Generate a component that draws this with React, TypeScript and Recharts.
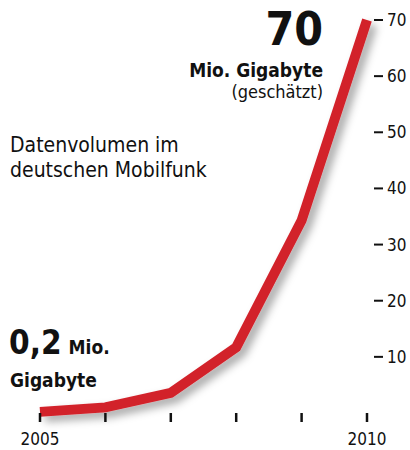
import { LineChart, Line, XAxis, YAxis } from "recharts";

const years = [2005, 2006, 2007, 2008, 2009, 2010];
const volume = [0.2, 1.0, 3.6, 11.7, 34.3, 70];
const yTicks = [10, 20, 30, 40, 50, 60, 70];
const labeledYears = [2005, 2010];

const data = years.map((year, i) => ({ year, volume: volume[i] }));

const FONT = '"Liberation Sans Narrow", "DejaVu Sans Condensed", "Roboto Condensed", "DejaVu Sans", sans-serif';

function YTick({ x, y, payload }: any) {
  return (
    <g>
      <line x1={x - 13} x2={x - 4} y1={y} y2={y} stroke="#111" strokeWidth={2} />
      <text x={x} y={y} dy="0.35em" fontSize={17} fill="#111" fontFamily={FONT}>
        {payload.value}
      </text>
    </g>
  );
}

export default function App() {
  return (
    <div style={{ position: "absolute", left: 0, top: 0, width: 410, height: 450, background: "#fff" }}>
      <LineChart width={410} height={450} data={data} margin={{ top: 20, right: 0, bottom: 0, left: 40 }}>
        <defs>
          <filter id="shadow" x="-20%" y="-20%" width="140%" height="140%">
            <feDropShadow dx={5} dy={5} stdDeviation={4} floodColor="#000" floodOpacity={0.35} />
          </filter>
        </defs>
        <XAxis
          dataKey="year"
          type="number"
          domain={[2005, 2010]}
          ticks={years}
          padding={{ left: 0, right: 6 }}
          axisLine={false}
          tickLine={{ stroke: "#111", strokeWidth: 2.5 }}
          tickSize={9}
          tickMargin={11}
          height={37}
          tick={{ fontSize: 17, fill: "#111", fontFamily: FONT }}
          tickFormatter={(v) => (labeledYears.includes(v) ? String(v) : "")}
        />
        <YAxis
          orientation="right"
          domain={[0, 70]}
          ticks={yTicks}
          width={37}
          axisLine={false}
          tickLine={false}
          tickSize={9}
          tickMargin={5}
          tick={<YTick />}
        />
        <Line
          type="linear"
          dataKey="volume"
          stroke="#d2232c"
          strokeWidth={10}
          strokeLinejoin="miter"
          dot={false}
          filter="url(#shadow)"
          isAnimationActive={false}
        />
      </LineChart>
      <svg width={410} height={450} style={{ position: "absolute", left: 0, top: 0, pointerEvents: "none" }} fontFamily={FONT}>
        <text x={323} y={45} textAnchor="end" fontSize={46} fontWeight="bold" fill="#111">70</text>
        <text x={323} y={77} textAnchor="end" fontSize={19} fontWeight="bold" fill="#111">Mio. Gigabyte</text>
        <text x={323} y={98} textAnchor="end" fontSize={18} fill="#111">(geschätzt)</text>
        <text x={10} y={152} fontSize={21} fill="#111">Datenvolumen im</text>
        <text x={10} y={177} fontSize={21} fill="#111">deutschen Mobilfunk</text>
        <text x={9} y={354} fill="#111" fontWeight="bold">
          <tspan fontSize={33}>0,2</tspan>
          <tspan fontSize={19} dx={7}>Mio.</tspan>
        </text>
        <text x={10} y={387} fontSize={19} fontWeight="bold" fill="#111">Gigabyte</text>
      </svg>
    </div>
  );
}
